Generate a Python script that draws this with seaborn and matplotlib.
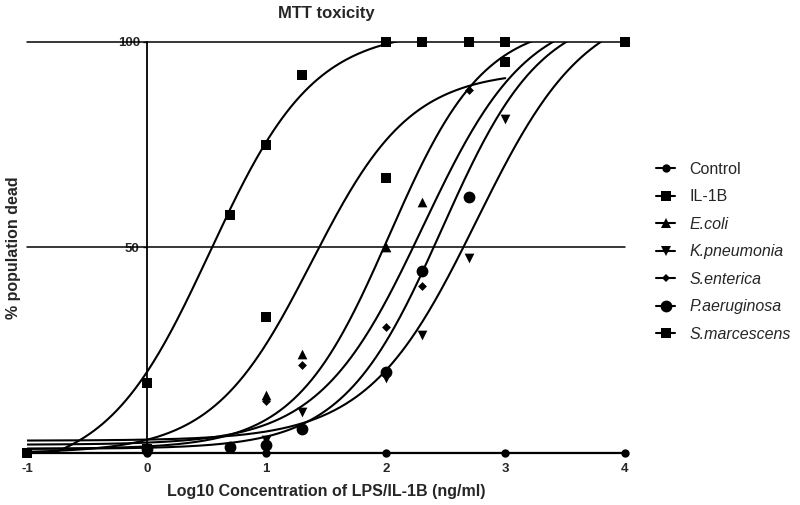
import numpy as np
import pandas as pd
import matplotlib
matplotlib.use("Agg")
import matplotlib.pyplot as plt
import seaborn as sns
from matplotlib.lines import Line2D

# measured points (log10 conc, % dead)
control_x = [-1, 0, 1, 2, 3, 4]
control_y = [0, 0, 0, 0, 0, 0]
il1b_x = [-1, 0, 0.7, 1, 1.3, 2, 2.3, 2.7, 3, 4]
il1b_y = [0, 17, 58, 75, 92, 100, 100, 100, 100, 100]
ecoli_x = [0, 1, 1.3, 2, 2.3]
ecoli_y = [1, 14, 24, 50, 61]
kpneu_x = [0, 1, 1.3, 2, 2.3, 2.7, 3]
kpneu_y = [1, 3.2, 10, 18.2, 28.7, 47.4, 81.3]
sent_x = [0, 1, 1.3, 2, 2.3, 2.7]
sent_y = [0.5, 12.7, 21.4, 30.7, 40.6, 88.3]
paer_x = [0, 0.7, 1, 1.3, 2, 2.3, 2.7]
paer_y = [1, 1.5, 2, 5.8, 19.7, 44.3, 62.3]
smar_x = [-1, 0, 1, 2, 3]
smar_y = [0, 1, 33, 67, 95]

# fitted curves: bottom, top, logEC50, hill, x range
series = ["Control", "IL-1B", "E.coli", "K.pneumonia", "S.enterica", "P.aeruginosa", "S.marcescens"]
fit_bottom = [0, -5, 1, 3, 2, 1, 0]
fit_top = [0, 103, 105, 110, 108, 108, 93]
fit_ec50 = [0, 0.53, 2.03, 2.76, 2.31, 2.47, 1.38]
fit_hill = [1, 1.0, 1.1, 0.95, 1.0, 1.05, 1.05]
fit_xmax = [4, 4, 4, 4, 4, 4, 3]

points = [(control_x, control_y), (il1b_x, il1b_y), (ecoli_x, ecoli_y), (kpneu_x, kpneu_y),
          (sent_x, sent_y), (paer_x, paer_y), (smar_x, smar_y)]
markers = ["o", "s", "^", "v", "D", "o", "s"]
msize = [6, 7, 7, 7, 4.5, 8.5, 7]

sns.set_style("white")
plt.rcParams['font.family'] = ['Liberation Sans', 'DejaVu Sans']
plt.rcParams['axes.unicode_minus'] = False

fig = plt.figure(figsize=(8, 5.05), dpi=100)
ax = fig.add_axes([0.034, 0.103, 0.747, 0.814])

for i, name in enumerate(series):
    xs = np.linspace(-1, fit_xmax[i], 400)
    b, t, e, h = fit_bottom[i], fit_top[i], fit_ec50[i], fit_hill[i]
    ys = b + (t - b) / (1 + 10 ** ((e - xs) * h))
    sns.lineplot(x=xs, y=ys, color="black", linewidth=1.5, ax=ax, legend=False)
    px, py = points[i]
    sns.scatterplot(x=px, y=py, marker=markers[i], s=msize[i] ** 2, color="black",
                    linewidth=0, ax=ax, clip_on=False, zorder=5, legend=False)

ax.axhline(50, color="black", linewidth=1.1, clip_on=False)
ax.axhline(100, color="black", linewidth=1.1, clip_on=False)

ax.set_xlim(-1, 4)
ax.set_ylim(0, 100)
for s in ["top", "right"]:
    ax.spines[s].set_visible(False)
ax.spines["left"].set_position(("data", 0))
ax.spines["left"].set_linewidth(1.3)
ax.spines["bottom"].set_linewidth(1.6)
ax.spines["left"].set_color("black")
ax.spines["bottom"].set_color("black")

ax.set_xticks([-1, 0, 1, 2, 3, 4])
ax.set_yticks([50, 100])
ax.tick_params(axis="x", length=0, pad=7, labelsize=9.5)
ax.tick_params(axis="y", length=3, width=1, pad=2, labelsize=9.5, left=True)
for lab in ax.get_xticklabels() + ax.get_yticklabels():
    lab.set_fontweight("bold")

ax.set_title("MTT toxicity", fontsize=12, fontweight="bold", pad=17)
ax.set_xlabel("Log10 Concentration of LPS/IL-1B (ng/ml)", fontsize=11.5, fontweight="bold")
ax.set_ylabel("% population dead", fontsize=11.5, fontweight="bold")
ax.xaxis.set_label_coords(0.5, -0.075)
ax.yaxis.set_label_coords(-0.01, 0.5)

handles = [Line2D([0], [0], color="black", linewidth=1.5, marker=markers[i],
                  markersize=msize[i], markeredgewidth=0) for i in range(len(series))]
leg = ax.legend(handles, series, loc="upper left", bbox_to_anchor=(0.81, 0.695),
                bbox_transform=fig.transFigure, frameon=False, fontsize=11.5,
                handlelength=1.2, handletextpad=0.9, labelspacing=0.78, borderpad=0)
for txt in leg.get_texts()[2:]:
    txt.set_fontstyle("italic")

fig.savefig("out.png", dpi=100)
